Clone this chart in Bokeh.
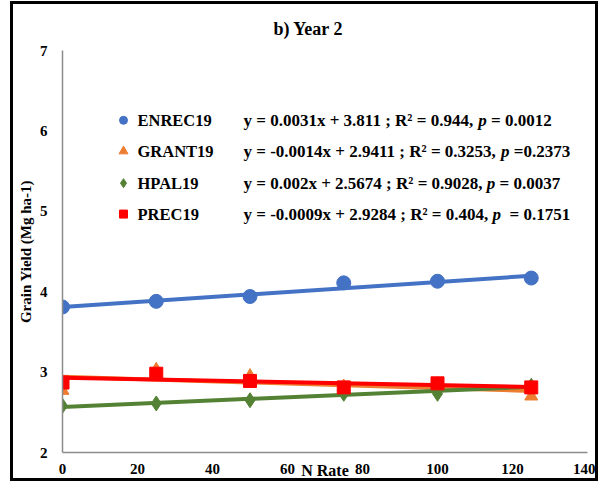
from bokeh.plotting import figure
from bokeh.models import Range1d, FixedTicker, ColumnDataSource
from bokeh.embed import file_html
from bokeh.resources import INLINE
from bokeh.core.properties import value

# ---------------- data ----------------
n_rate = [0, 25, 50, 75, 100, 125]
enrec19 = [3.81, 3.88, 3.94, 4.11, 4.13, 4.17]
grant19 = [2.77, 3.03, 2.95, 2.82, 2.85, 2.70]
hpal19 = [2.58, 2.61, 2.65, 2.73, 2.73, 2.83]
prec19 = [2.87, 2.98, 2.89, 2.81, 2.86, 2.81]

series_names = ["ENREC19", "GRANT19", "HPAL19", "PREC19"]
slopes = [0.0031, -0.0014, 0.002, -0.0009]
intercepts = [3.811, 2.9411, 2.5674, 2.9284]
r_squared = ["0.944", "0.3253", "0.9028", "0.404"]
p_values = ["0.0012", "0.2373", "0.0037", "0.1751"]
p_eq_sep = [" = ", " =", " = ", "  = "]

x_ticks = [0, 20, 40, 60, 80, 100, 120, 140]
y_ticks = [2, 3, 4, 5, 6, 7]

# ---------------- style ----------------
FONT = "Liberation Serif"
colors = ["#4472C4", "#ED7D31", "#548235", "#FF0000"]
markers = ["circle", "triangle", "diamond", "square"]
marker_sizes = [14, 13, 15, 13]
legend_marker_sizes = [8, 9, 9, 8]
AXIS_GREY = "#8c8c8c"

# canvas (inside the black picture frame)
W, H = 588, 480
FL, FR, FT, FB = 49, 574, 45, 448  # plot frame edges in canvas pixels
XMIN, XMAX, YMIN, YMAX = 0, 140, 2, 7


def dx(px):
    return XMIN + (px - FL) * (XMAX - XMIN) / (FR - FL)


def dy(py):
    return YMAX - (py - FT) * (YMAX - YMIN) / (FB - FT)


p = figure(width=W, height=H, output_backend="svg", toolbar_location=None,
           x_range=Range1d(XMIN, XMAX), y_range=Range1d(YMIN, YMAX),
           min_border_left=FL, min_border_right=W - FR,
           min_border_top=FT, min_border_bottom=H - FB,
           background_fill_color="white", border_fill_color="white",
           title="b) Year 2")
p.styles = {"border": "3px solid black", "margin-left": "10px", "margin-top": "1px"}
p.outline_line_color = None
p.grid.visible = False

p.title.align = "left"
p.title.offset = 211
p.title.standoff = 24
p.title.text_font = FONT
p.title.text_font_style = "bold"
p.title.text_font_size = "18px"
p.title.text_color = "black"

for ax in (p.xaxis[0], p.yaxis[0]):
    ax.major_tick_line_color = None
    ax.minor_tick_line_color = None
    ax.major_tick_out = 0
    ax.major_tick_in = 0
    ax.axis_line_color = AXIS_GREY
    ax.axis_line_width = 1.5
    ax.major_label_text_font = FONT
    ax.major_label_text_font_style = "bold"
    ax.major_label_text_font_size = "15px"
    ax.major_label_text_color = "black"
    ax.axis_label_text_font = FONT
    ax.axis_label_text_font_style = "bold"
    ax.axis_label_text_color = "black"

p.xaxis.ticker = FixedTicker(ticks=x_ticks)
p.yaxis.ticker = FixedTicker(ticks=y_ticks)
p.xaxis.major_label_standoff = 11
p.yaxis.major_label_standoff = 15

p.yaxis.axis_label = "Grain Yield (Mg ha-1)"
p.yaxis.axis_label_text_font_size = "15px"
p.yaxis.axis_label_standoff = 3

p.xaxis.axis_label = "N Rate"
p.xaxis.axis_label_text_font_size = "16px"
p.xaxis.axis_label_standoff = -15

# ---------------- series ----------------
all_series = [enrec19, grant19, hpal19, prec19]
x_fit = [n_rate[0], n_rate[-1]]
for ys, m, b, col, mk, ms in zip(all_series, slopes, intercepts, colors, markers, marker_sizes):
    p.scatter(n_rate, ys, marker=mk, size=ms, fill_color=col, line_color=col)
    p.line(x_fit, [m * xv + b for xv in x_fit], line_color=col, line_width=4)

# ---------------- legend / equations ----------------
row_py = [115, 146, 178, 209]
row_y = [dy(v) for v in row_py]

for yv, col, mk, ms in zip(row_y, colors, markers, legend_marker_sizes):
    p.scatter([dx(110)], [yv], marker=mk, size=ms, fill_color=col, line_color=col)

p.text(x=[dx(124)] * 4, y=row_y, text=series_names,
       text_font=value(FONT), text_font_style="bold", text_font_size="16.5px",
       text_baseline="middle", text_align="left", text_color="black")

# Times New Roman Bold advance widths (em) for chained text segments
TW = {" ": 0.25, ".": 0.25, ",": 0.25, ";": 0.333, "=": 0.57, "+": 0.57,
      "-": 0.333, "x": 0.5, "y": 0.5, "R": 0.722, "\u00b2": 0.3}
for d in "0123456789":
    TW[d] = 0.5


def tw(s, fs):
    return sum(TW.get(c, 0.5) for c in s) * fs


EQ_FS = 17
seg_a, seg_c, off_p, off_c = [], [], [], []
for m, b, r2, pv, sep in zip(slopes, intercepts, r_squared, p_values, p_eq_sep):
    a = f"y = {m}x + {b} ; R\u00b2 = {r2},"
    lead = len(sep) - len(sep.lstrip(" "))
    seg_a.append(a)
    seg_c.append(sep.lstrip(" ") + pv)
    wa = tw(a + " ", EQ_FS)
    off_p.append(wa)
    off_c.append(wa + 0.5 * EQ_FS + tw(" " * lead, EQ_FS))

eq_src = ColumnDataSource(dict(x=[dx(230)] * 4, y=row_y, a=seg_a, c=seg_c,
                               pp=["p"] * 4, op=off_p, oc=off_c))
common = dict(text_font=value(FONT), text_font_size=f"{EQ_FS}px",
              text_baseline="middle", text_align="left", text_color="black")
p.text(x="x", y="y", text="a", source=eq_src, text_font_style="bold", **common)
p.text(x="x", y="y", text="pp", x_offset="op", source=eq_src,
       text_font_style="bold italic", **common)
p.text(x="x", y="y", text="c", x_offset="oc", source=eq_src,
       text_font_style="bold", **common)

open("out.html", "w").write(file_html(p, INLINE))
